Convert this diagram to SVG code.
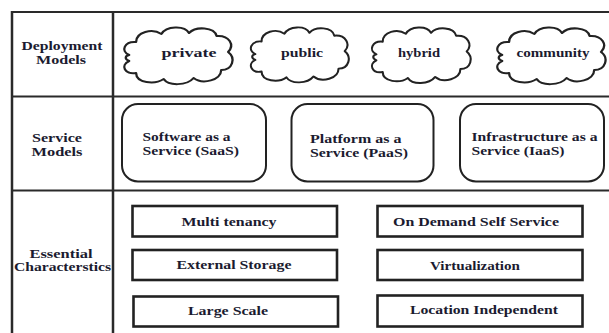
<svg xmlns="http://www.w3.org/2000/svg" width="609" height="333" viewBox="0 0 609 333">
  <defs>
    <style>
      .grid { stroke: #2a2a2a; stroke-width: 2; fill: none; }
      .lbl { font-family: "Liberation Serif", "Times New Roman", serif; font-weight: bold; font-size: 12.5px; fill: #1b1b30; }
      .mid { text-anchor: middle; }
      .cloud { fill: #fff; stroke: #222; stroke-width: 2; vector-effect: non-scaling-stroke; stroke-linejoin: round; }
      .svc { fill: #fff; stroke: #222; stroke-width: 2; }
      .feat { fill: #fff; stroke: #222; stroke-width: 2.6; }
    </style>
    <!-- cloud outline in a 100 x 60 unit box -->
    <path id="cloudShape" d="M 8,30 C 0,26 4,16 14,17 C 14,7 28,3 36,9 C 40,1 56,0 60,8 C 66,1 82,2 84,11 C 95,10 100,20 94,27 C 101,33 98,45 88,45 C 88,55 72,60 64,53 C 58,61 42,61 38,54 C 30,60 14,58 14,48 C 4,50 0,40 8,36 C 4,34 4,31 8,30 Z"/>
  </defs>

  <rect width="609" height="333" fill="#fff"/>

  <!-- table frame -->
  <g id="table">
    <line class="grid" x1="11" y1="12" x2="609" y2="12"/>
    <line class="grid" x1="11" y1="96.5" x2="609" y2="96.5"/>
    <line class="grid" x1="11" y1="190.5" x2="609" y2="190.5"/>
    <line class="grid" x1="12" y1="11" x2="12" y2="333" style="stroke-width:2.5"/>
    <line class="grid" x1="113" y1="11" x2="113" y2="333" style="stroke-width:2.5"/>
  </g>

  <!-- row headings -->
  <g id="row-deployment">
    <text class="lbl mid" x="62" y="50" textLength="81" lengthAdjust="spacingAndGlyphs">Deployment</text>
    <text class="lbl mid" x="61" y="63.5" textLength="50" lengthAdjust="spacingAndGlyphs">Models</text>
  </g>
  <g id="row-service">
    <text class="lbl mid" x="57" y="141.5" textLength="50" lengthAdjust="spacingAndGlyphs">Service</text>
    <text class="lbl mid" x="57" y="155.5" textLength="51" lengthAdjust="spacingAndGlyphs">Models</text>
  </g>
  <g id="row-essential">
    <text class="lbl mid" x="61" y="257.5" textLength="63" lengthAdjust="spacingAndGlyphs">Essential</text>
    <text class="lbl mid" x="62.5" y="270.5" textLength="97" lengthAdjust="spacingAndGlyphs">Characterstics</text>
  </g>

  <!-- deployment models -->
  <g id="cloud-private">
    <use href="#cloudShape" class="cloud" transform="translate(120,25) scale(1.15,1)"/>
    <text class="lbl mid" x="189" y="56.5" textLength="55" lengthAdjust="spacingAndGlyphs">private</text>
  </g>
  <g id="cloud-public">
    <use href="#cloudShape" class="cloud" transform="translate(247,25) scale(1.04,0.97)"/>
    <text class="lbl mid" x="302" y="56.5" textLength="42" lengthAdjust="spacingAndGlyphs">public</text>
  </g>
  <g id="cloud-hybrid">
    <use href="#cloudShape" class="cloud" transform="translate(368,25) scale(1.05,0.98)"/>
    <text class="lbl mid" x="419" y="57" textLength="42" lengthAdjust="spacingAndGlyphs">hybrid</text>
  </g>
  <g id="cloud-community">
    <use href="#cloudShape" class="cloud" transform="translate(493,25) scale(1.15,1)"/>
    <text class="lbl mid" x="553" y="57" textLength="73" lengthAdjust="spacingAndGlyphs">community</text>
  </g>

  <!-- service models -->
  <g id="svc-saas">
    <rect class="svc" x="122" y="104" width="144" height="77.5" rx="16" ry="16"/>
    <text class="lbl" x="142.5" y="140.5" textLength="88" lengthAdjust="spacingAndGlyphs">Software as a</text>
    <text class="lbl" x="142.5" y="155" textLength="96.5" lengthAdjust="spacingAndGlyphs">Service (SaaS)</text>
  </g>
  <g id="svc-paas">
    <rect class="svc" x="291.5" y="104" width="142" height="77.5" rx="16" ry="16"/>
    <text class="lbl" x="310" y="142.5" textLength="91.5" lengthAdjust="spacingAndGlyphs">Platform as a</text>
    <text class="lbl" x="310" y="156.5" textLength="98" lengthAdjust="spacingAndGlyphs">Service (PaaS)</text>
  </g>
  <g id="svc-iaas">
    <rect class="svc" x="460" y="104" width="144" height="77.5" rx="16" ry="16"/>
    <text class="lbl" x="471.5" y="140.5" textLength="126" lengthAdjust="spacingAndGlyphs">Infrastructure as a</text>
    <text class="lbl" x="471.5" y="155" textLength="93" lengthAdjust="spacingAndGlyphs">Service (IaaS)</text>
  </g>

  <!-- essential characteristics -->
  <g id="feat-multi-tenancy">
    <rect class="feat" x="132.5" y="206" width="204.5" height="30.5"/>
    <text class="lbl mid" x="229" y="225.5" textLength="95" lengthAdjust="spacingAndGlyphs">Multi tenancy</text>
  </g>
  <g id="feat-external-storage">
    <rect class="feat" x="132.5" y="250" width="204.5" height="30"/>
    <text class="lbl mid" x="234" y="268.5" textLength="115" lengthAdjust="spacingAndGlyphs">External Storage</text>
  </g>
  <g id="feat-large-scale">
    <rect class="feat" x="133.5" y="296.5" width="204.5" height="30"/>
    <text class="lbl mid" x="228" y="314.5" textLength="80" lengthAdjust="spacingAndGlyphs">Large Scale</text>
  </g>
  <g id="feat-on-demand">
    <rect class="feat" x="377.5" y="206" width="205" height="30.5"/>
    <text class="lbl mid" x="476" y="226" textLength="166" lengthAdjust="spacingAndGlyphs">On Demand Self Service</text>
  </g>
  <g id="feat-virtualization">
    <rect class="feat" x="377.5" y="250" width="205" height="30"/>
    <text class="lbl mid" x="475" y="269.5" textLength="90" lengthAdjust="spacingAndGlyphs">Virtualization</text>
  </g>
  <g id="feat-location">
    <rect class="feat" x="377.5" y="295.5" width="205" height="31"/>
    <text class="lbl mid" x="484" y="313.5" textLength="148" lengthAdjust="spacingAndGlyphs">Location Independent</text>
  </g>

  <!-- no connectors in this layout -->
  <g id="connectors"/>
</svg>
